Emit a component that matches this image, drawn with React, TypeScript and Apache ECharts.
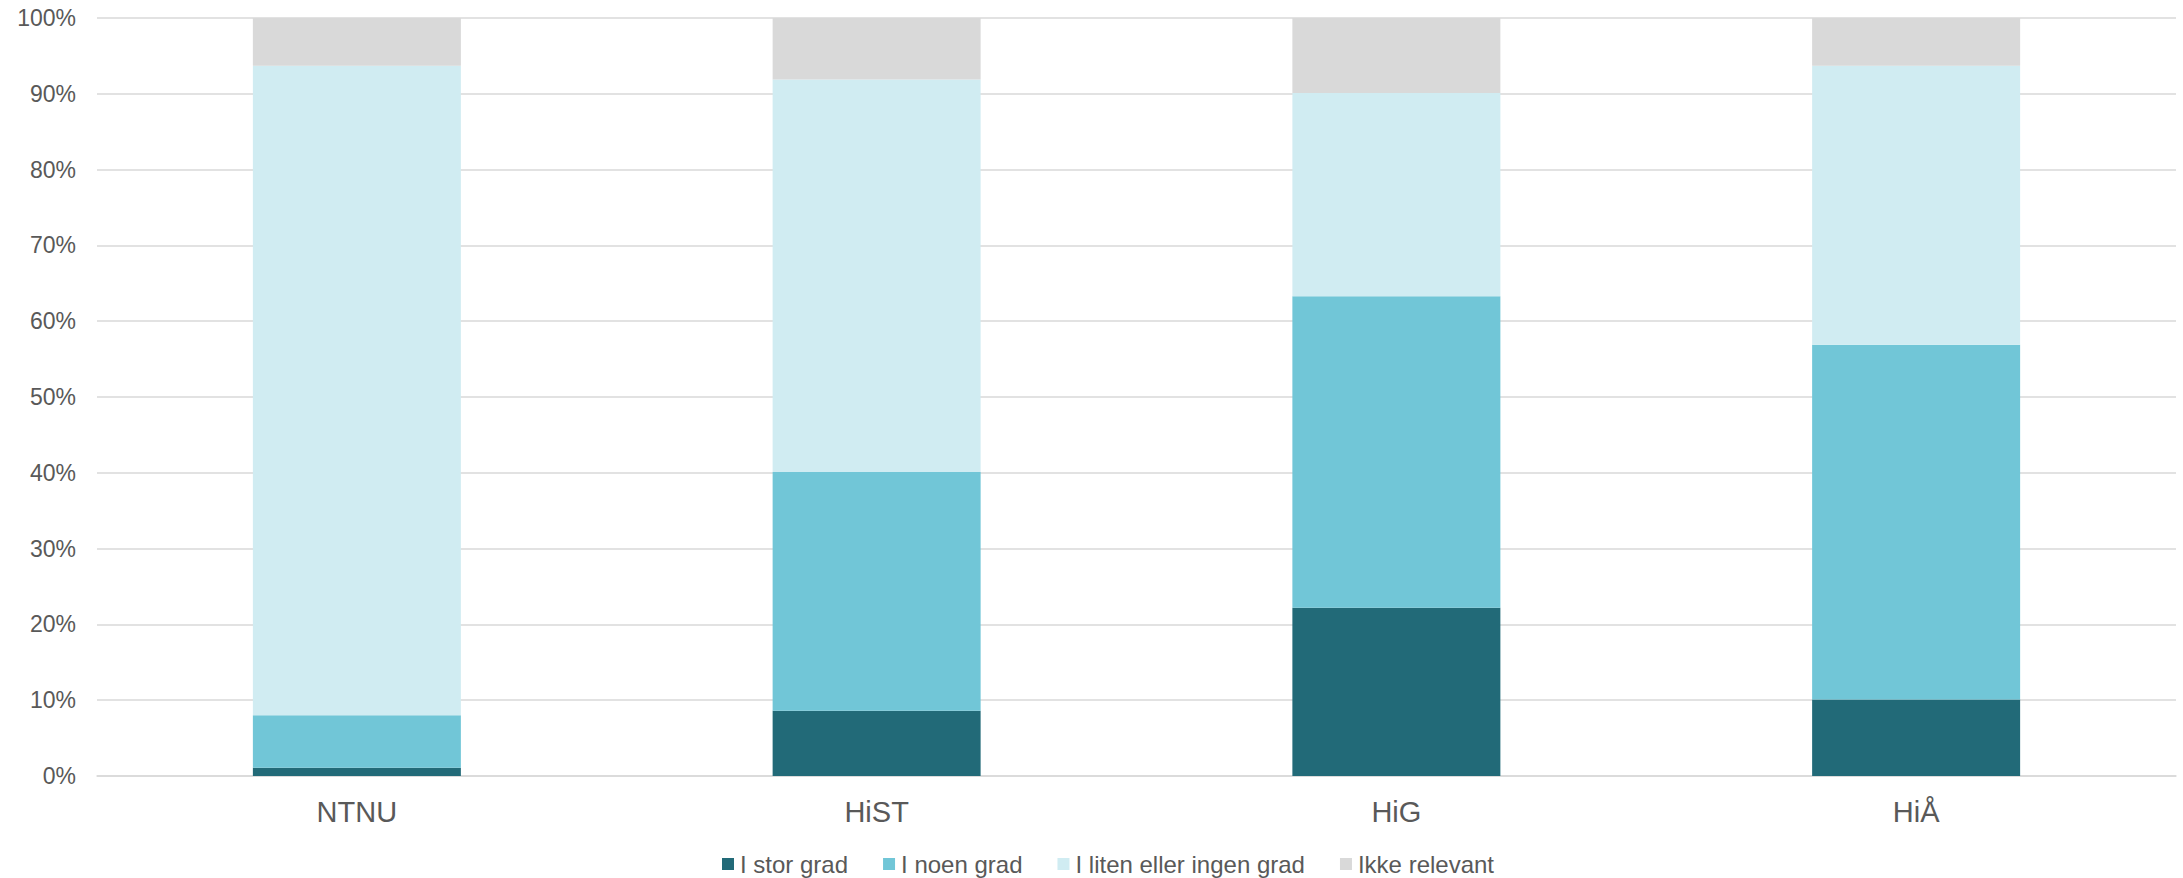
import React, { useEffect, useRef } from "react";
import * as echarts from "echarts";

const categories = ["NTNU", "HiST", "HiG", "HiÅ"];
const seriesNames = ["I stor grad", "I noen grad", "I liten eller ingen grad", "Ikke relevant"];
const storGrad = [1.1, 8.6, 22.2, 10.1];
const noenGrad = [6.9, 31.5, 41.1, 46.8];
const litenGrad = [85.7, 51.8, 26.8, 36.8];
const ikkeRelevant = [6.3, 8.1, 9.9, 6.3];
const colors = ["#226A78", "#71C6D7", "#D0ECF2", "#D9D9D9"];
const yTicks = [0, 10, 20, 30, 40, 50, 60, 70, 80, 90, 100];

const FONT = "'Liberation Sans', Arial, sans-serif";
const TEXT = "#595959";

export default function App() {
  const ref = useRef<HTMLDivElement>(null);
  useEffect(() => {
    if (!ref.current) return;
    const chart = echarts.init(ref.current, null, { renderer: "svg" });
    const values = [storGrad, noenGrad, litenGrad, ikkeRelevant];
    chart.setOption({
      animation: false,
      backgroundColor: "#ffffff",
      textStyle: { fontFamily: FONT },
      grid: { left: 97, right: 7, top: 18, bottom: 102, containLabel: false },
      legend: {
        data: seriesNames,
        left: 722,
        top: 852,
        padding: 0,
        itemWidth: 12,
        itemHeight: 12,
        itemGap: 35,
        icon: "rect",
        textStyle: { color: TEXT, fontSize: 24, fontFamily: FONT, padding: [0, 0, 0, 1] },
      },
      xAxis: {
        type: "category",
        data: categories,
        axisLine: { show: true, lineStyle: { color: "#D9D9D9", width: 1.5 } },
        axisTick: { show: false },
        axisLabel: { color: TEXT, fontSize: 29, fontFamily: FONT, margin: 20, lineHeight: 32 },
      },
      yAxis: {
        type: "value",
        min: yTicks[0],
        max: yTicks[yTicks.length - 1],
        interval: 10,
        axisLine: { show: false },
        axisTick: { show: false },
        splitLine: { lineStyle: { color: "#D9D9D9", width: 1.5 } },
        axisLabel: { color: TEXT, fontSize: 23, fontFamily: FONT, margin: 21, formatter: "{value}%" },
      },
      series: seriesNames.map((name, i) => ({
        name,
        type: "bar",
        stack: "total",
        barWidth: 208,
        data: values[i],
        itemStyle: { color: colors[i] },
      })),
    });
    return () => chart.dispose();
  }, []);
  return (
    <div
      ref={ref}
      style={{ position: "fixed", left: 0, top: 0, width: 2183, height: 878, background: "#fff" }}
    />
  );
}
